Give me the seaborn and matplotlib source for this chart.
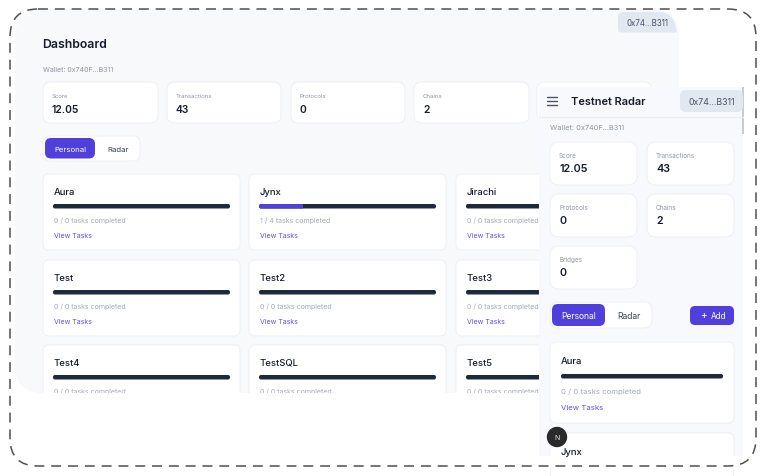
import matplotlib
matplotlib.use("Agg")
import matplotlib.pyplot as plt
import seaborn as sns
from matplotlib.patches import Circle, FancyBboxPatch, PathPatch, Rectangle
from matplotlib.path import Path
from matplotlib.transforms import IdentityTransform

W, H = 766, 477

# values
stat_labels = ["Score", "Transactions", "Protocols", "Chains", "Bridges"]
stat_values = ["12.05", "43", "0", "2", "0"]
project_names = ["Aura", "Jynx", "Jirachi", "Test", "Test2", "Test3", "Test4", "TestSQL", "Test5"]
tasks_done = [0, 1, 0, 0, 0, 0, 0, 0, 0]
tasks_total = [0, 4, 0, 0, 0, 0, 0, 0, 0]

PURPLE = "#4f3fdb"
DARK = "#1e293b"
INK = "#141b2b"
GREY = "#a3aab8"
LABEL = "#8d95a5"
EDGE = "#eceef3"
BG = "#f8f9fb"
PANEL = "#f8f9fc"
PILL = "#e2e8f0"
LINK = "#5f4fe6"

sns.set_theme(style="white")
plt.rcParams["font.family"] = ["Inter", "DejaVu Sans"]

fig = plt.figure(figsize=(W / 100, H / 100), dpi=100, facecolor="white")


def layer(z):
    ax = fig.add_axes([0, 0, 1, 1], zorder=z)
    ax.set_xlim(0, W)
    ax.set_ylim(H, 0)
    ax.axis("off")
    return ax


def box(ax, x0, y0, x1, y1, r=8, fc="white", ec=EDGE, lw=0.6):
    ax.add_patch(FancyBboxPatch((x0, y0), x1 - x0, y1 - y0, boxstyle=f"round,pad=0,rounding_size={r}",
                                fc=fc, ec=ec, lw=lw))


def label(ax, x, y, s, px=7, color=GREY, weight="normal", ha="left"):
    ax.text(x, y + 0.8, s, fontsize=px * 0.72, color=color, fontweight=weight, ha=ha, va="center")


def progress(x0, x1, y0, y1, done, total, z):
    # one small seaborn bar per project, dark track with the done part on top
    ax = fig.add_axes([x0 / W, 1 - y1 / H, (x1 - x0) / W, (y1 - y0) / H], zorder=z)
    sns.barplot(x=[1.0], color=DARK, saturation=1, width=1, linewidth=0, ax=ax)
    if total > 0:
        sns.barplot(x=[done / total], color=PURPLE, saturation=1, width=1, linewidth=0, ax=ax)
    ax.set_xlim(0, 1)
    ax.axis("off")
    ax.patch.set_alpha(0)
    clip = FancyBboxPatch((x0, H - y1), x1 - x0, y1 - y0, boxstyle="round,pad=0,rounding_size=2",
                          transform=IdentityTransform())
    for bar in ax.patches:
        bar.set_clip_path(clip)


def stat_card(ax, x0, y0, x1, y1, i, label_dy, value_dy, r=8, lab_px=6, val_px=10.3, pad=9):
    box(ax, x0, y0, x1, y1, r=r)
    label(ax, x0 + pad, y0 + label_dy, stat_labels[i], px=lab_px, color=LABEL)
    label(ax, x0 + pad, y0 + value_dy, stat_values[i], px=val_px, color=INK, weight="semibold")


def project_card(ax, x0, y0, x1, i):
    box(ax, x0, y0, x1, y0 + 76, r=6)
    label(ax, x0 + 11, y0 + 16.5, project_names[i], px=9.5, color=INK, weight="medium")
    label(ax, x0 + 11, y0 + 44.5, f"{tasks_done[i]} / {tasks_total[i]} tasks completed", px=7.0)
    label(ax, x0 + 11, y0 + 60, "View Tasks", px=7.0, color=LINK)
    progress(x0 + 10, x0 + 187, y0 + 30, y0 + 34.5, tasks_done[i], tasks_total[i], 1)


# desktop view
base = layer(0)
box(base, 15, 10, 679, 394, r=28, fc=BG, ec="none", lw=0)
label(base, 42.5, 44, "Dashboard", px=12.2, color=INK, weight="semibold")
label(base, 43, 69.5, "Wallet: 0x740F...B311", px=7, color=LABEL)

pill = Path([(624, 13), (660, 13), (674, 13), (677, 33), (677, 33.5), (622, 33.5), (618, 33.5),
             (618, 30), (618, 17), (618, 13), (624, 13), (624, 13)],
            [Path.MOVETO, Path.LINETO, Path.CURVE3, Path.CURVE3, Path.LINETO, Path.LINETO, Path.CURVE3,
             Path.CURVE3, Path.LINETO, Path.CURVE3, Path.CURVE3, Path.CLOSEPOLY])
base.add_patch(PathPatch(pill, fc=PILL, ec="none"))
label(base, 647.5, 22.5, "0x74...B311", px=7.9, color="#475569", ha="center")

for x0, x1, i in zip([43, 167, 291, 414, 537], [158, 281, 405, 529, 652], range(5)):
    stat_card(base, x0, 83, x1, 124, i, 12.5, 26)

box(base, 43, 137, 140, 162, r=7)
box(base, 45, 139, 95, 159.5, r=6, fc=PURPLE, ec="none", lw=0)
label(base, 70, 149, "Personal", px=7.8, color="white", ha="center")
label(base, 118, 149, "Radar", px=7.8, color="#374151", ha="center")

for row, y0 in enumerate([175, 261, 346]):
    for col, x0 in enumerate([43, 249, 456]):
        project_card(base, x0, y0, x0 + 197, row * 3 + col)

# mobile panel and everything sitting over the desktop view
top = layer(2)
top.patch.set_alpha(0)
top.add_patch(Rectangle((15, 394), 530, 74, fc="white", ec="none"))
top.add_patch(Rectangle((539, 88), 204, 369, fc=PANEL, ec="none"))
top.plot([539, 743], [118, 118], color="#edeff4", lw=0.8)
top.add_patch(Rectangle((742, 88), 2, 47, fc="#c9ccd3", ec="none"))

for y in [97.5, 102, 106]:
    top.plot([547, 557], [y, y], color="#4b5563", lw=1.0)
label(top, 571, 101.5, "Testnet Radar", px=11, color=INK, weight="semibold")
box(top, 680, 91, 743, 113, r=6, fc=PILL, ec="none", lw=0)
label(top, 711.5, 101.5, "0x74...B311", px=8.8, color="#475569", ha="center")
label(top, 550, 127.5, "Wallet: 0x740F...B311", px=7.4, color=LABEL)

panel_cards = [(550, 143), (647, 143), (550, 195), (647, 195), (550, 247)]
for i, (x0, y0) in enumerate(panel_cards):
    stat_card(top, x0, y0, x0 + 87, y0 + 43, i, 12.5, 25.5, r=9, lab_px=6.4, val_px=10.8)

box(top, 550, 303, 652, 329, r=8)
box(top, 552, 305, 605, 327, r=6, fc=PURPLE, ec="none", lw=0)
label(top, 578.5, 315.5, "Personal", px=8.5, color="white", ha="center")
label(top, 629, 315.5, "Radar", px=8.5, color="#374151", ha="center")
box(top, 690, 307, 734, 326, r=5, fc=PURPLE, ec="none", lw=0)
label(top, 703, 315.5, "+", px=10, color="white", ha="center")
label(top, 718.5, 315.5, "Add", px=8.2, color="white", ha="center")

box(top, 550, 343, 734, 424, r=6)
label(top, 561, 360.5, project_names[0], px=9.5, color=INK, weight="medium")
label(top, 561, 390.5, f"{tasks_done[0]} / {tasks_total[0]} tasks completed", px=7.8)
label(top, 561, 407, "View Tasks", px=7.8, color=LINK)
progress(561, 723, 375, 379.5, tasks_done[0], tasks_total[0], 3)

box(top, 550, 434, 734, 480, r=6)
label(top, 561, 451.5, project_names[1], px=9.5, color=INK, weight="medium")
top.add_patch(Rectangle((539, 457), 206, 12, fc="white", ec="none"))

top.add_patch(Circle((557, 438), 10.2, fc="#2a2a2a", ec="none"))
label(top, 557, 437.5, "N", px=7, color="#e5e5e5", ha="center")

# dashed outline
top.add_patch(FancyBboxPatch((10, 10), 746, 457, boxstyle="round,pad=0,rounding_size=28", fc="none",
                             ec="#4f4f4f", lw=1.1, ls=(0, (6.5, 4.5))))

fig.savefig("out.png", dpi=100)
